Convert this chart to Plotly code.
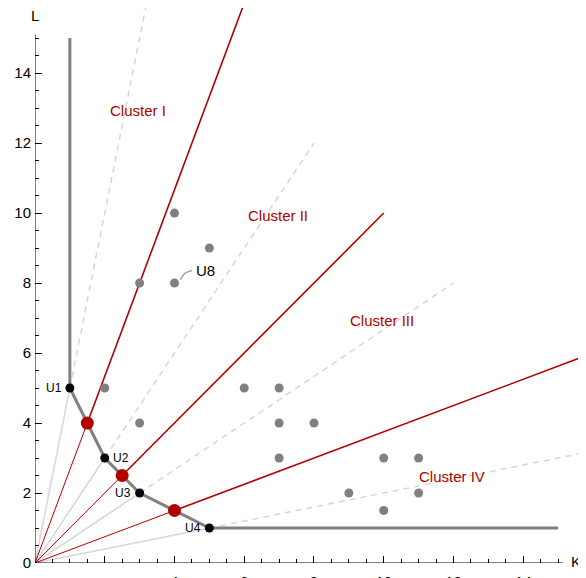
import plotly.graph_objects as go

# ---- data ----
iso_K = [1, 1, 2, 3, 5, 15]
iso_L = [15, 5, 3, 2, 1, 1]
units_K = [1, 2, 3, 5]
units_L = [5, 3, 2, 1]
unit_names = ["U1", "U2", "U3", "U4"]
unit_ext_K = [3.2, 8, 12, 16]
unit_ext_L = [16, 12, 8, 3.2]
centers_K = [1.5, 2.5, 4]
centers_L = [4, 2.5, 1.5]
center_ext_K = [6, 10, 16]
center_ext_L = [16, 10, 6]
others_K = [2, 3, 3, 4, 4, 5, 6, 7, 7, 8, 7, 10, 11, 9, 11, 10]
others_L = [5, 4, 8, 8, 10, 9, 5, 5, 4, 4, 3, 3, 3, 2, 2, 1.5]
cluster_names = ["Cluster I", "Cluster II", "Cluster III", "Cluster IV"]
cluster_K = [2.96, 6.97, 9.95, 11.96]
cluster_L = [12.94, 9.94, 6.94, 2.46]
x_ticks = [0, 2, 4, 6, 8, 10, 12, 14]
x_ticktext = ["", "", "4", "6", "8", "10", "12", "14"]
y_ticks = [0, 2, 4, 6, 8, 10, 12, 14]
y_ticktext = ["0", "2", "4", "6", "8", "10", "12", "14"]

RED = "#b20000"
LGRAY = "#d6d6d6"
GRAY = "#808080"

fig = go.Figure()

# light gray rays origin -> units, dashed beyond
for k, l, ek, el in zip(units_K, units_L, unit_ext_K, unit_ext_L):
    fig.add_trace(go.Scatter(x=[0, k], y=[0, l], mode="lines",
                             line=dict(color=LGRAY, width=1.5), hoverinfo="skip"))
    fig.add_trace(go.Scatter(x=[k, ek], y=[l, el], mode="lines",
                             line=dict(color=LGRAY, width=1.5, dash="6px,5px"), hoverinfo="skip"))

# red rays
for k, l, ek, el in zip(centers_K, centers_L, center_ext_K, center_ext_L):
    fig.add_trace(go.Scatter(x=[0, k], y=[0, l], mode="lines",
                             line=dict(color=RED, width=1), hoverinfo="skip"))
    fig.add_trace(go.Scatter(x=[k, ek], y=[l, el], mode="lines",
                             line=dict(color=RED, width=1.6), hoverinfo="skip"))

# isoquant
fig.add_trace(go.Scatter(x=iso_K, y=iso_L, mode="lines",
                         line=dict(color=GRAY, width=3), hoverinfo="skip"))

# other points
fig.add_trace(go.Scatter(x=others_K, y=others_L, mode="markers",
                         marker=dict(color=GRAY, size=9), hoverinfo="skip"))

# U8 leader
fig.add_trace(go.Scatter(x=[4.17, 4.3, 4.5], y=[8.1, 8.28, 8.36], mode="lines",
                         line=dict(color="#a0a0a0", width=1.5, shape="spline"), hoverinfo="skip"))

# units
fig.add_trace(go.Scatter(x=units_K, y=units_L, mode="markers",
                         marker=dict(color="black", size=9), hoverinfo="skip"))
# centers
fig.add_trace(go.Scatter(x=centers_K, y=centers_L, mode="markers",
                         marker=dict(color=RED, size=13), hoverinfo="skip"))

annotations = []
pos = [("right", -0.18, 0), ("left", 0.18, 0), ("right", -0.18, 0), ("right", -0.18, 0)]
for name, k, l, (xa, dx, dy) in zip(unit_names, units_K, units_L, pos):
    annotations.append(dict(x=k + dx, y=l + dy, text=name, showarrow=False, xanchor=xa,
                            yanchor="middle", font=dict(size=12, color="black")))
annotations.append(dict(x=4.9, y=8.37, text="U8", showarrow=False, xanchor="center",
                        yanchor="middle", font=dict(size=15, color="black")))
for name, k, l in zip(cluster_names, cluster_K, cluster_L):
    annotations.append(dict(x=k, y=l, text=name, showarrow=False, xanchor="center",
                            yanchor="middle", font=dict(size=15, color=RED)))
annotations.append(dict(x=15.3, y=0.05, text="K", showarrow=False, xanchor="left",
                        yanchor="middle", font=dict(size=15, color="black")))
annotations.append(dict(x=0, y=15.65, text="L", showarrow=False, xanchor="center",
                        yanchor="middle", font=dict(size=15, color="black")))

shapes = [
    dict(type="line", x0=0, y0=0, x1=15.14, y1=0, line=dict(color="black", width=1), layer="above"),
    dict(type="line", x0=0, y0=0, x1=0, y1=15.1, line=dict(color="black", width=1), layer="above"),
]

minor_vals = [v / 2 for v in range(1, 31) if v % 4 != 0]

# page body has an 8px default margin: size the figure so its plot area lands where the reference's does
fig.update_layout(
    width=578, height=570,
    margin=dict(l=27, r=0, t=0, b=15),
    paper_bgcolor="white", plot_bgcolor="white",
    showlegend=False,
    font=dict(family="Liberation Sans, Arial, sans-serif", size=14, color="black"),
    annotations=annotations,
    shapes=shapes,
    xaxis=dict(range=[0, 15.8], showgrid=False, zeroline=False, showline=False,
               automargin=False, ticklabelstandoff=8,
               tickmode="array", tickvals=x_ticks, ticktext=x_ticktext,
               ticks="inside", ticklen=7, tickwidth=1, tickcolor="black",
               minor=dict(tickmode="array", tickvals=minor_vals, ticks="inside",
                          ticklen=4, tickwidth=1, tickcolor="black", showgrid=False),
               tickfont=dict(size=15, color="black")),
    yaxis=dict(range=[0, 15.86], showgrid=False, zeroline=False, showline=False,
               automargin=False, ticklabelstandoff=3,
               tickmode="array", tickvals=y_ticks, ticktext=y_ticktext,
               ticks="inside", ticklen=7, tickwidth=1, tickcolor="black",
               minor=dict(tickmode="array", tickvals=minor_vals, ticks="inside",
                          ticklen=4, tickwidth=1, tickcolor="black", showgrid=False),
               tickfont=dict(size=15, color="black")),
)

fig.write_html("out.html")
